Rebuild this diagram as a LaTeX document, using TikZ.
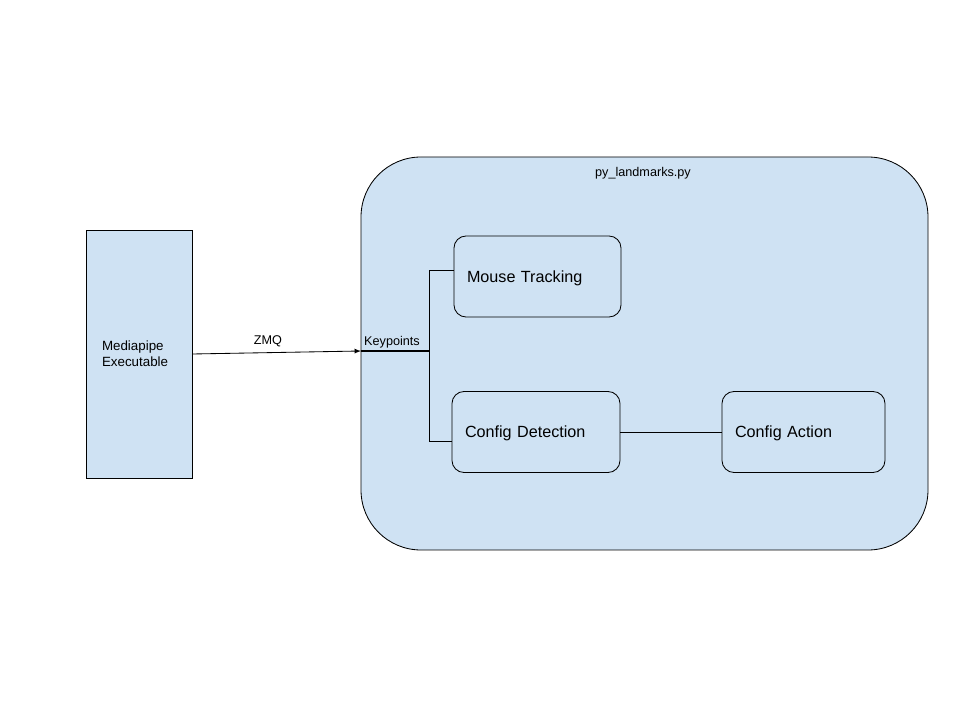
\documentclass[tikz,border=0pt]{standalone}
\usepackage{fontspec}
\setmainfont{Liberation Sans}
\usetikzlibrary{arrows}
\usetikzlibrary{positioning}

\newcommand{\px}{0.025cm}
\definecolor{paleblue}{HTML}{CFE2F3}

\begin{document}
\begin{tikzpicture}[
    x=0.025cm, y=-0.025cm,
    block/.style={draw=black, fill=paleblue, line width=0.6pt},
    module/.style={block, rounded corners=12*\px, align=left, font=\fontsize{11.5}{13}\selectfont,
      inner xsep=0pt, inner ysep=0pt, minimum height=81*\px, text depth=0pt},
    small/.style={font=\fontsize{9}{11}\selectfont, inner sep=0pt},
    link/.style={line width=0.6pt},
    arrow/.style={link, ->, >=latex}
  ]
  \useasboundingbox (0,0) rectangle (960,720);

  \node[block, rounded corners=60*\px, minimum width=567*\px, minimum height=393*\px] (pyland) at (644.5,353.5) {};
  \node[small] (title) at (643,173) {py\_landmarks.py};

  \node[block, minimum width=106*\px, minimum height=248*\px, align=left, text width=74*\px,
    font=\fontsize{9.5}{11.5}\selectfont] (media) at (139,354) {Mediapipe\\Executable};

  \node[module, minimum width=167*\px, text width=141*\px] (mouse) at (537.5,276.5) {Mouse Tracking};
  \node[module, minimum width=168*\px, text width=142*\px] (detect) at (536,432) {Config Detection};
  \node[module, minimum width=163*\px, text width=137*\px] (action) at (803.5,432) {Config Action};

  \coordinate (kp) at (361,351);
  \coordinate (split) at (429,351);

  \draw[arrow] (media.east) -- (kp);
  \node[small] (zmq) at (268,341) {ZMQ};
  \node[small] (keypts) at (392,342) {Keypoints};
  \draw[line width=1.4pt] (kp) -- (split);
  \draw[link] (split) |- ([yshift=6.5*\px]mouse.west);
  \draw[link] (split) |- ([yshift=-9*\px]detect.west);
  \draw[link] (detect) -- (action);
\end{tikzpicture}
\end{document}
